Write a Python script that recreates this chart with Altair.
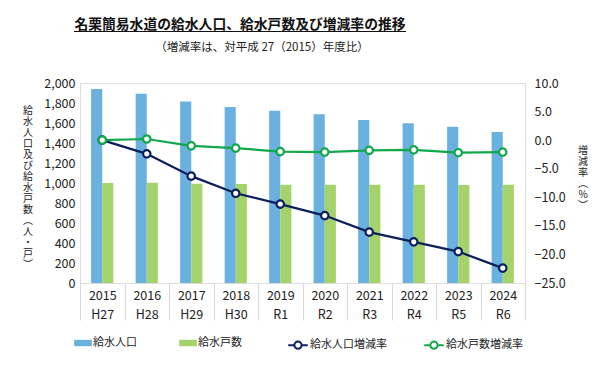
import altair as alt
import pandas as pd

years = ["2015", "2016", "2017", "2018", "2019", "2020", "2021", "2022", "2023", "2024"]
eras = ["H27", "H28", "H29", "H30", "R1", "R2", "R3", "R4", "R5", "R6"]
population = [1940, 1893, 1816, 1760, 1723, 1687, 1630, 1597, 1563, 1510]
households = [1000, 1003, 993, 990, 983, 983, 983, 983, 980, 983]
pop_rate = [0.0, -2.4, -6.3, -9.3, -11.2, -13.2, -16.1, -17.8, -19.5, -22.4]
hh_rate = [0.0, 0.2, -1.0, -1.4, -2.0, -2.1, -1.8, -1.7, -2.2, -2.1]

bar_series = ["給水人口", "給水戸数"]
line_series = ["給水人口増減率", "給水戸数増減率"]
title_text = "名栗簡易水道の給水人口、給水戸数及び増減率の推移"
subtitle_text = "（増減率は、対平成 27（2015）年度比）"
left_title = "\n".join("給水人口及び給水戸数︵人・戸︶")
right_title = "\n".join("増減率︵%︶")

cats = [f"{y}|{e}" for y, e in zip(years, eras)]

bars = pd.DataFrame({
    "cat": cats * 2,
    "series": [bar_series[0]] * len(cats) + [bar_series[1]] * len(cats),
    "value": population + households,
})
lines = pd.DataFrame({
    "cat": cats * 2,
    "series": [line_series[0]] * len(cats) + [line_series[1]] * len(cats),
    "value": pop_rate + hh_rate,
})

FONT = "Noto Sans CJK JP"
NUMFONT = "Liberation Sans Narrow, Noto Sans CJK JP"

xscale = alt.Scale(domain=cats, paddingInner=0, paddingOuter=0)
xaxis = alt.Axis(
    title=None, labelAngle=0, labelExpr="split(datum.label, '|')",
    tickBand="extent", tickSize=37, tickColor="#d9d9d9", tickWidth=1,
    domain=False, labelPadding=-31, labelLineHeight=19,
    labelFont=NUMFONT, labelFontSize=12.5, labelColor="#222222",
)

bar_path = "M-1,-0.36L1,-0.36L1,0.36L-1,0.36Z"
line_path = ("M-1,0L-0.37,0M0.37,0L1,0M-0.37,0A0.37,0.37,0,1,1,0.37,0"
             "A0.37,0.37,0,1,1,-0.37,0Z")

bar_layer = alt.Chart(bars).mark_bar().encode(
    x=alt.X("cat:N", scale=xscale, axis=xaxis, sort=cats),
    xOffset=alt.XOffset("series:N", scale=alt.Scale(domain=bar_series, paddingInner=0, paddingOuter=1)),
    y=alt.Y("value:Q", scale=alt.Scale(domain=[0, 2000], nice=False),
            axis=alt.Axis(values=list(range(0, 2001, 200)), format=",.0f", grid=False,
                          domain=False, ticks=False, labelPadding=5,
                          labelFont=NUMFONT, labelFontSize=12.5, labelColor="#222222",
                          title=None)),
    color=alt.Color("series:N", scale=alt.Scale(domain=bar_series, range=["#6ab1e0", "#a5d36b"]),
                    legend=alt.Legend(title=None, orient="none", direction="horizontal",
                                      legendX=-6, legendY=251, symbolType=bar_path,
                                      symbolSize=313, symbolStrokeWidth=0,
                                      labelFont=FONT, labelFontSize=11, labelColor="#222222",
                                      labelOffset=1, columnPadding=42)),
)

line_y = alt.Y("value:Q", scale=alt.Scale(domain=[-25, 10], nice=False),
               axis=alt.Axis(orient="right", values=list(range(-25, 11, 5)), format=".1f",
                             grid=False, domain=False, ticks=False, labelPadding=9,
                             labelFont=NUMFONT, labelFontSize=12.5, labelColor="#222222",
                             title=None))
stroke_enc = alt.Stroke("series:N", sort=line_series,
                        scale=alt.Scale(domain=line_series, range=["#0b1f5c", "#10a84a"]),
                        legend=alt.Legend(title=None, orient="none", direction="horizontal",
                                          legendX=207, legendY=251, symbolType=line_path,
                                          symbolSize=380, symbolStrokeWidth=2,
                                          symbolFillColor="white",
                                          labelFont=FONT, labelFontSize=11, labelColor="#222222",
                                          labelOffset=1, columnPadding=33))

line_layer = alt.Chart(lines).mark_line(strokeWidth=2.2).encode(
    x=alt.X("cat:N", scale=xscale, sort=cats), y=line_y, stroke=stroke_enc,
    detail="series:N",
)
point_layer = alt.Chart(lines).mark_point(filled=True, fill="white", size=55, strokeWidth=2.2, opacity=1).encode(
    x=alt.X("cat:N", scale=xscale, sort=cats), y=line_y, stroke=stroke_enc,
)

rates = alt.layer(line_layer, point_layer)

title_layer = alt.Chart(pd.DataFrame({"t": [title_text]})).mark_text(
    font=FONT, fontSize=13.8, fontWeight="bold", color="#111111", align="center", baseline="middle"
).encode(text="t:N", x=alt.value(160), y=alt.value(-58))
underline = alt.Chart(pd.DataFrame({"t": [title_text]})).mark_rule(color="#111111", strokeWidth=1.2).encode(
    x=alt.value(-6), x2=alt.value(326), y=alt.value(-51.5))
subtitle_layer = alt.Chart(pd.DataFrame({"t": [subtitle_text]})).mark_text(
    font=FONT, fontSize=11.5, color="#222222", align="center", baseline="middle"
).encode(text="t:N", x=alt.value(182), y=alt.value(-35))
left_title_layer = alt.Chart(pd.DataFrame({"t": [left_title]})).mark_text(
    font=FONT, fontSize=10, color="#222222", align="center", baseline="top",
    lineBreak="\n", lineHeight=11
).encode(text="t:N", x=alt.value(-52), y=alt.value(23))
right_title_layer = alt.Chart(pd.DataFrame({"t": [right_title]})).mark_text(
    font=FONT, fontSize=10, color="#222222", align="center", baseline="top",
    lineBreak="\n", lineHeight=11
).encode(text="t:N", x=alt.value(503), y=alt.value(63))

chart = alt.layer(bar_layer, rates, title_layer, underline, subtitle_layer,
                  left_title_layer, right_title_layer).resolve_scale(
    y="independent", color="independent", stroke="independent"
).properties(
    width=445, height=200,
    autosize=alt.AutoSizeParams(type="none"),
    padding={"left": 72, "top": 75, "right": 72, "bottom": 80},
).configure_view(stroke="#d9d9d9", strokeWidth=1.5).configure(background="white")

chart.save("out.html", embed_options={"renderer": "svg", "actions": False})
